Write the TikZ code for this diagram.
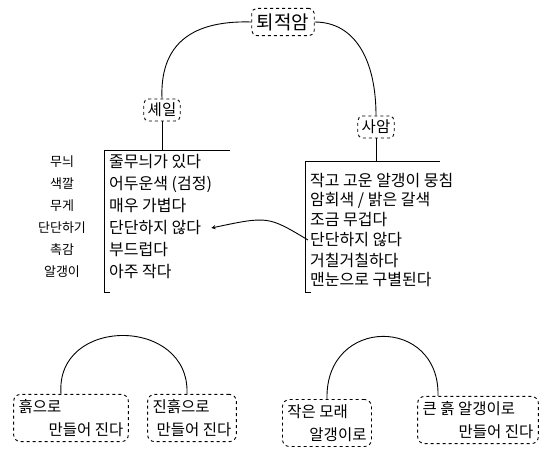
\documentclass[tikz,border=0pt]{standalone}
\usepackage{fontspec}
\setmainfont{Noto Sans CJK KR}
\usetikzlibrary{positioning, arrows}
\tikzstyle{rock} = [rectangle, rounded corners=5pt,
inner sep=4pt,
draw=black, dashed,
line width=0.9pt,
font=\fontsize{15.5}{17}\selectfont]
\tikzstyle{trait} = [anchor=west, inner sep=2pt, font=\fontsize{16}{18}\selectfont]
\tikzstyle{prop} = [inner sep=1pt, font=\fontsize{13}{15}\selectfont]
\tikzstyle{origin} = [rectangle, rounded corners=7pt,
align=left,
inner sep=5pt,
draw=black, dashed,
line width=0.9pt,
font=\fontsize{15.5}{23}\selectfont]
\tikzstyle{link} = [line width=0.9pt]
\tikzstyle{arrow} = [line width=0.9pt,->,>=stealth]

\begin{document}
\begin{tikzpicture}[x=1pt, y=-1pt]
        \useasboundingbox (0,0) rectangle (559,456);
        \node (root) [rock, inner sep=5pt, font=\fontsize{19}{21}\selectfont] at (283,22) {퇴적암};
        \node (shale) [rock] at (162,110) {셰일};
        \node (sand) [rock] at (376,127) {사암};
        \draw [link] (root.west) .. controls (185,20) and (160,50) .. (shale.north);
        \draw [link] (root.east) .. controls (355,22) and (376,60) .. (sand.north);
        % shale
        \coordinate (shtop) at (162,150);
        \foreach \t [count=\i] in {줄무늬가 있다, {어두운색 (검정)}, 매우 가볍다, 단단하지 않다, 부드럽다, 아주 작다}
            \node (d\i) [trait] at (107,140+22*\i) {\t};
        \foreach \t [count=\i] in {무늬, 색깔, 무게, 단단하기, 촉감, 알갱이}
            \node (p\i) [prop] at (62,140+22*\i) {\t};
        \draw [link] (shale) -- (shtop);
        \draw [link] (230,150) -- (104,150) -- (104,292) -- (110,292);
        % sandstone
        \coordinate (satop) at (376,161);
        \foreach \t [count=\i] in {작고 고운 알갱이 뭉침, 암회색 / 밝은 갈색, 조금 무겁다, 단단하지 않다, 거칠거칠하다, 맨눈으로 구별된다}
            \node (s\i) [trait] at (308,160+20*\i) {\t};
        \draw [link] (sand) -- (satop);
        \draw [link] (440,161) -- (305,161) -- (305,292) -- (311,292);
        \draw [arrow] (s4.west) .. controls (268,216) .. ([xshift=8pt]d4.east);
        % origins
        \node (b1) [origin] at (71,418) {흙으로\\\hspace{30pt}만들어 진다};
        \node (b2) [origin] at (192,418) {진흙으로\\\hspace{4pt}만들어 진다};
        \node (b3) [origin] at (327,423) {작은 모래\\\hspace{22pt}알갱이로};
        \node (b4) [origin] at (478,420) {큰 흙 알갱이로\\\hspace{36pt}만들어 진다};
        \draw [link] ([xshift=-10pt]b1.north) .. controls (55,316) and (190,316) .. ([xshift=-5pt]b2.north);
        \draw [link] (b3.north) .. controls (325,316) and (440,316) .. ([xshift=-40pt]b4.north);
    \end{tikzpicture}
\end{document}
